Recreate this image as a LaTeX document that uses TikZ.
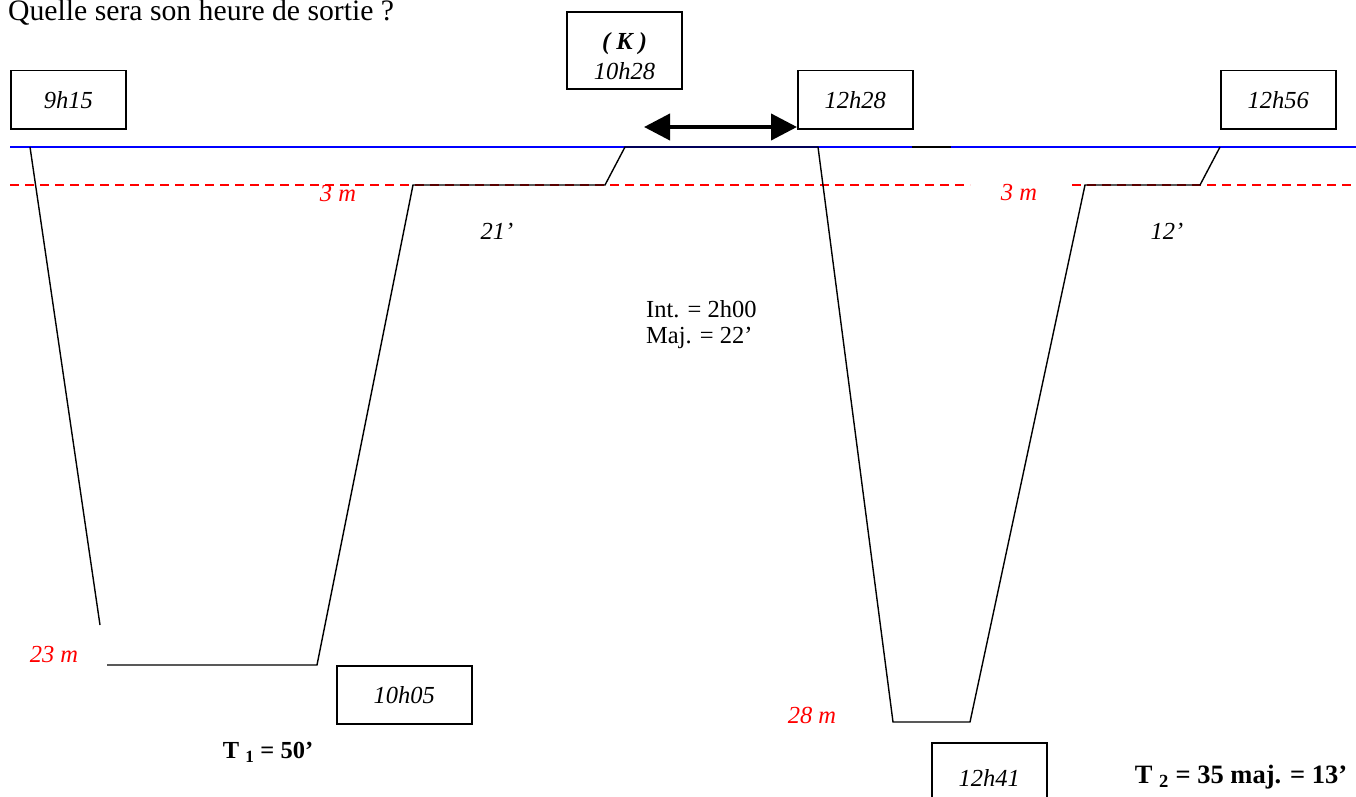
\documentclass[tikz,border=0pt]{standalone}
\usepackage{fontspec}
\setmainfont{Liberation Serif}
\usetikzlibrary{arrows.meta}
\tikzset{
  timebox/.style={draw, line width=1.5pt, minimum width=115pt, minimum height=58pt, inner sep=0pt, font=\fontsize{24.5}{29}\selectfont\itshape, anchor=north west},
  profile/.style={line width=1.4pt, black},
  redlbl/.style={text=red, font=\fontsize{24.5}{29}\selectfont\itshape, inner sep=0pt},
  blklbl/.style={font=\fontsize{24.5}{29}\selectfont\itshape, inner sep=0pt}
}
\begin{document}
\begin{tikzpicture}[x=1pt,y=-1pt, every node/.style={font=\fontsize{24.5}{29}\selectfont}]
\useasboundingbox (0,0) rectangle (1356,797);
% question text (cut at the top, as in the reference)
\node[anchor=base west, inner sep=0pt, font=\fontsize{29.7}{34}\selectfont] (q) at (8,21) {Quelle sera son heure de sortie ?};
% surface and 3 m stop line
\draw[blue, line width=1.4pt] (10,147) -- (1356,147);
\draw[red, line width=1.4pt, dash pattern=on 9pt off 6pt] (10,185) -- (970,185);
\draw[red, line width=1.4pt, dash pattern=on 9pt off 6pt] (1072,185) -- (1356,185);
% boxes
\node[timebox] (b1) at (10,70) {9h15};
\draw[line width=1.5pt] (567,12) rectangle (682,89);
\node[font=\fontsize{24.5}{29}\selectfont\itshape, inner sep=0pt, align=center] (bk) at (624.5,56) {\textbf{( K )}\\[1pt]10h28};
\node[timebox] (b3) at (797,70) {12h28};
\node[timebox] (b4) at (1220,70) {12h56};
\node[timebox, minimum width=135pt] (b2) at (336,665) {10h05};
\node[timebox, minimum height=70pt] (b5) at (931,742) {12h41};
% profile points
\coordinate (p0) at (30,147);
\coordinate (p1) at (100,625);
\coordinate (p2) at (107,665);
\coordinate (p3) at (317,665);
\coordinate (p4) at (413,185);
\coordinate (p5) at (605,185);
\coordinate (p6) at (625,147);
\coordinate (p7) at (818,147);
\coordinate (p8) at (893,722);
\coordinate (p9) at (970,722);
\coordinate (p10) at (1085,185);
\coordinate (p11) at (1200,185);
\coordinate (p12) at (1220,147);
\coordinate (s1) at (912,147);
\coordinate (s2) at (951,147);
\draw[profile] (p0) -- (p1);
\draw[profile] (p2) -- (p3) -- (p4) -- (p5) -- (p6) -- (p7) -- (p8) -- (p9) -- (p10) -- (p11) -- (p12);
\draw[profile] (s1) -- (s2);
% interval arrow
\coordinate (a1) at (644,127);
\coordinate (a2) at (797,127);
\draw[line width=4pt, {Triangle[length=26pt,width=26pt]}-{Triangle[length=26pt,width=26pt]}] (a1) -- (a2);
% labels
\node[redlbl] (l3a) at (338,194) {3 m};
\node[redlbl] (l3b) at (1019,193) {3 m};
\node[redlbl] (l23) at (54,655) {23 m};
\node[redlbl] (l28) at (812,715) {28 m};
\node[blklbl] (l21) at (497,231) {21’};
\node[blklbl] (l12) at (1167,231) {12’};
\node[anchor=west, inner sep=0pt, align=left] (int) at (646,325) {Int. = 2h00\\[-3pt]Maj. = 22’};
\node[inner sep=0pt, font=\fontsize{24.5}{29}\selectfont\bfseries] (t1) at (268,752) {T \textsubscript{1} = 50’};
\node[inner sep=0pt, font=\fontsize{26.5}{29}\selectfont\bfseries] (t2) at (1241,777) {T \textsubscript{2} = 35 maj. = 13’};
\end{tikzpicture}
\end{document}
